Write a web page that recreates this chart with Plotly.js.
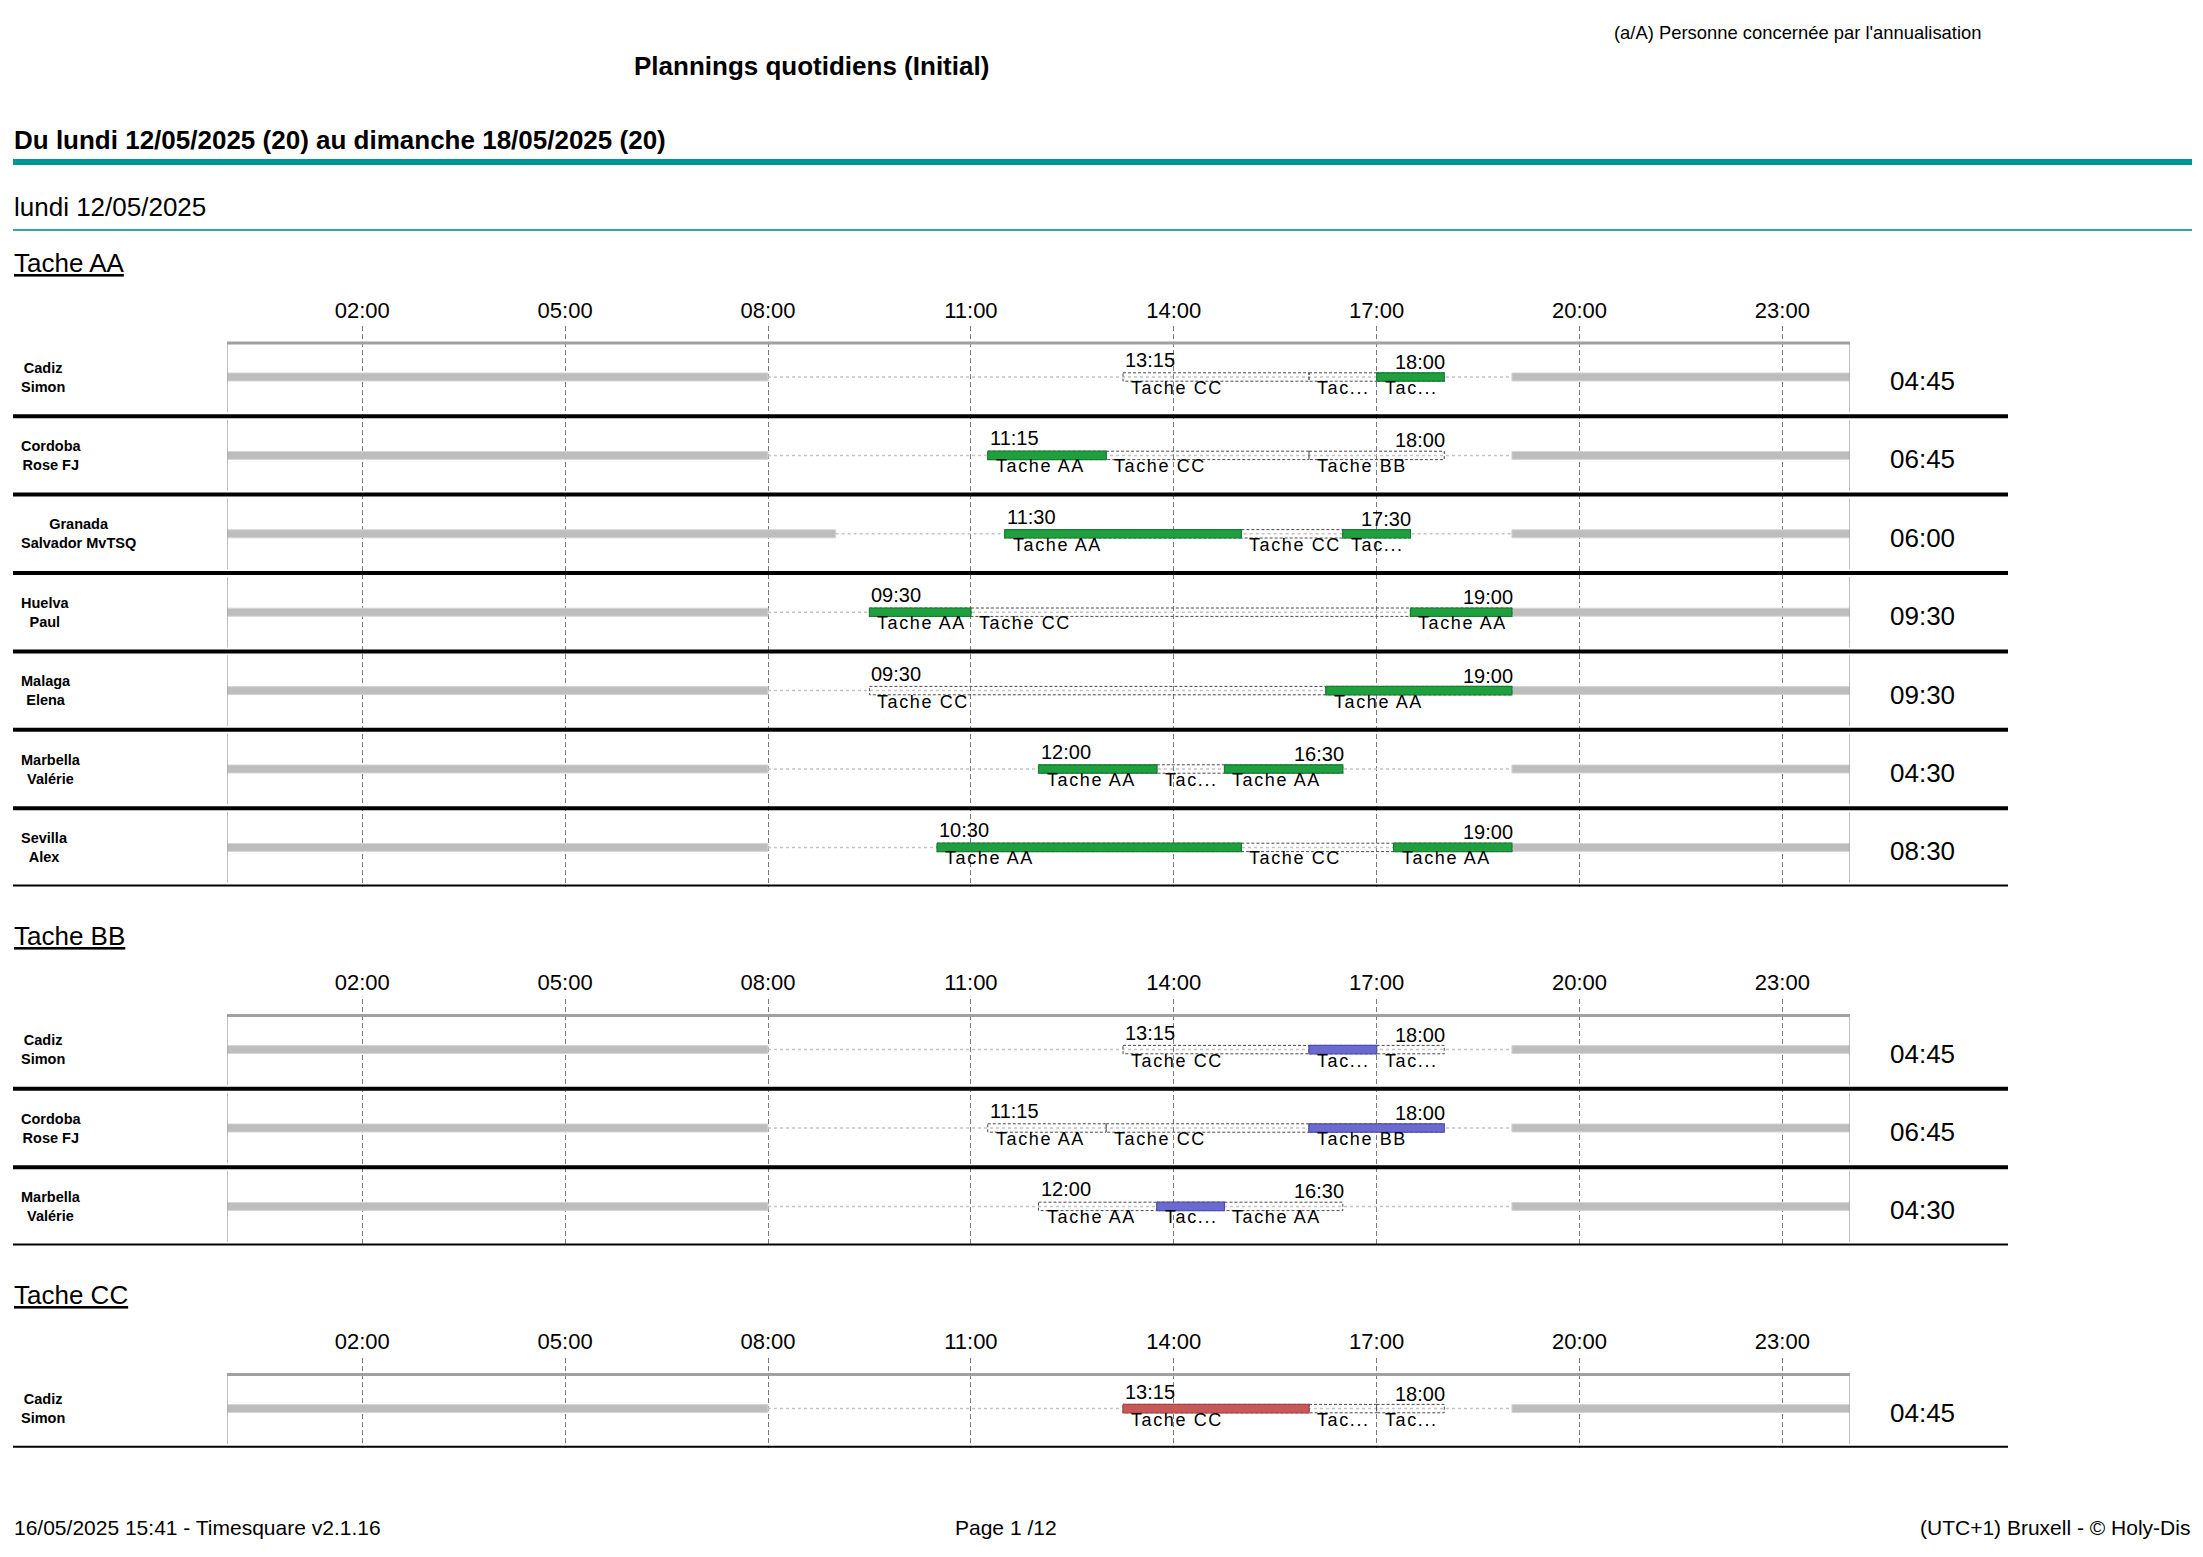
<!DOCTYPE html>
<html><head><meta charset="utf-8">
<script src="https://cdn.plot.ly/plotly-3.0.1.min.js"></script>
<style>html,body{margin:0;padding:0;background:#fff}</style>
</head><body><div id="chart" style="width:2203px;height:1557px"></div>
<script>
// ---------------- DATA ----------------
const lastNames  = ['Cadiz', 'Cordoba', 'Granada', 'Huelva', 'Malaga', 'Marbella', 'Sevilla'];
const firstNames = ['Simon', 'Rose FJ', 'Salvador MvTSQ', 'Paul', 'Elena', 'Valérie', 'Alex'];
const availStart = [8, 8, 9, 8, 8, 8, 8];
const availEnd   = [19, 19, 19, 19, 19, 19, 19];
const segStart = [[13.25, 16, 17], [11.25, 13, 16], [11.5, 15, 16.5], [9.5, 11, 17.5], [9.5, 16.25], [12, 13.75, 14.75], [10.5, 15, 17.25]];
const segEnd   = [[16, 17, 18], [13, 16, 18], [15, 16.5, 17.5], [11, 17.5, 19], [16.25, 19], [13.75, 14.75, 16.5], [15, 17.25, 19]];
const segTask  = [['Tache CC', 'Tache BB', 'Tache AA'], ['Tache AA', 'Tache CC', 'Tache BB'], ['Tache AA', 'Tache CC', 'Tache AA'],
                  ['Tache AA', 'Tache CC', 'Tache AA'], ['Tache CC', 'Tache AA'], ['Tache AA', 'Tache BB', 'Tache AA'], ['Tache AA', 'Tache CC', 'Tache AA']];
const totals = ['04:45', '06:45', '06:00', '09:30', '09:30', '04:30', '08:30'];
const sectionTasks   = ['Tache AA', 'Tache BB', 'Tache CC'];
const sectionMembers = [[0, 1, 2, 3, 4, 5, 6], [0, 1, 5], [0]];
const tickHours  = [2, 5, 8, 11, 14, 17, 20, 23];
const tickLabels = ['02:00', '05:00', '08:00', '11:00', '14:00', '17:00', '20:00', '23:00'];

// ---------------- STYLE / LAYOUT ----------------
const W = 2203, H = 1557;
const X0 = 227, X1 = 1850;        // px of 0h and 24h
const P = 78.4;                    // row pitch px
const FONT = 'Liberation Sans, Arial, sans-serif';
const taskColor = {'Tache AA': '#1f9f3d', 'Tache BB': '#6a6ad0', 'Tache CC': '#c95858'};
const taskLine  = {'Tache AA': '#177f31', 'Tache BB': '#5050ac', 'Tache CC': '#a84444'};
const px = v => v / W;
const py = v => 1 - v / H;
const fmt = h => { const hh = Math.floor(h), mm = Math.round((h - hh) * 60); return String(hh).padStart(2, '0') + ':' + String(mm).padStart(2, '0'); };

const traces = [], annotations = [], shapes = [];
const layout = {
  width: W, height: H, margin: {l: 0, r: 0, t: 0, b: 0},
  paper_bgcolor: '#fff', plot_bgcolor: 'rgba(0,0,0,0)',
  showlegend: false, barmode: 'overlay', hovermode: false,
  font: {family: FONT, color: '#000'}
};

// header texts
annotations.push(
  {xref: 'paper', yref: 'paper', x: px(1983), y: py(32), xanchor: 'right', yanchor: 'middle', showarrow: false,
   text: "(a/A) Personne concernée par l'annualisation", font: {size: 18.4}},
  {xref: 'paper', yref: 'paper', x: px(811), y: py(66), xanchor: 'center', yanchor: 'middle', showarrow: false,
   text: '<b>Plannings quotidiens (Initial)</b>', font: {size: 26}},
  {xref: 'paper', yref: 'paper', x: px(12), y: py(140), xanchor: 'left', yanchor: 'middle', showarrow: false,
   text: '<b>Du lundi 12/05/2025 (20) au dimanche 18/05/2025 (20)</b>', font: {size: 26}},
  {xref: 'paper', yref: 'paper', x: px(12), y: py(207), xanchor: 'left', yanchor: 'middle', showarrow: false,
   text: 'lundi 12/05/2025', font: {size: 26}},
  {xref: 'paper', yref: 'paper', x: px(12), y: py(1527), xanchor: 'left', yanchor: 'middle', showarrow: false,
   text: '16/05/2025 15:41 - Timesquare v2.1.16', font: {size: 21}},
  {xref: 'paper', yref: 'paper', x: px(1006), y: py(1527), xanchor: 'center', yanchor: 'middle', showarrow: false,
   text: 'Page 1 /12', font: {size: 21}},
  {xref: 'paper', yref: 'paper', x: px(2192), y: py(1527), xanchor: 'right', yanchor: 'middle', showarrow: false,
   text: '(UTC+1) Bruxell - © Holy-Dis', font: {size: 21}}
);
shapes.push(
  {type: 'line', xref: 'paper', yref: 'paper', x0: px(13), x1: px(2192), y0: py(162), y1: py(162), line: {color: '#009696', width: 6}},
  {type: 'line', xref: 'paper', yref: 'paper', x0: px(13), x1: px(2192), y0: py(230), y1: py(230), line: {color: '#30a8a8', width: 2}}
);

let h0 = 263;
sectionTasks.forEach((task, k) => {
  const members = sectionMembers[k];
  const n = members.length;
  const gridTop = h0 + 63, border = h0 + 80, row0 = h0 + 114, bottom = row0 + (n - 0.5) * P;
  const xa = k === 0 ? 'x' : 'x' + (k + 1), ya = k === 0 ? 'y' : 'y' + (k + 1);
  const xName = k === 0 ? 'xaxis' : 'xaxis' + (k + 1), yName = k === 0 ? 'yaxis' : 'yaxis' + (k + 1);
  const rTop = (gridTop - row0) / P, rBorder = (border - row0) / P;
  const half = 4.2 / P;

  layout[xName] = {domain: [px(X0), px(X1)], range: [0, 24], anchor: ya, side: 'top',
    tickvals: tickHours, ticktext: tickLabels, ticks: '', showgrid: true, gridcolor: '#7a7a7a', gridwidth: 1,
    griddash: '5px,3px', zeroline: false, showline: false, fixedrange: true, tickfont: {size: 22, family: FONT},
    ticklabelstandoff: 3};
  layout[yName] = {domain: [py(bottom), py(gridTop)], range: [n - 0.5, rTop], anchor: xa, showgrid: false,
    zeroline: false, showline: false, showticklabels: false, ticks: '', fixedrange: true};

  annotations.push({xref: 'paper', yref: 'paper', x: px(12), y: py(h0), xanchor: 'left', yanchor: 'middle', showarrow: false,
    text: '<u>' + task + '</u>', font: {size: 26}});

  const gY = [], gB = [], gX = [];   // gray unavailable bars
  const aX = [], aY = [];            // availability dotted lines
  const bX = [], bY = [];            // segment boxes
  const tX = [], tY = [];            // task-coloured bars (filled rectangles)
  members.forEach((p, r) => {
    gY.push(r, r); gB.push(0, availEnd[p]); gX.push(availStart[p], 24 - availEnd[p]);
    aX.push(availStart[p], availEnd[p], null); aY.push(r, r, null);
    const ss = segStart[p], se = segEnd[p], st = segTask[p];
    ss.forEach((s, j) => {
      const e = se[j];
      bX.push(s, e, e, s, s, null); bY.push(r - half, r - half, r + half, r + half, r - half, null);
      if (st[j] === task) { tX.push(s, e, e, s, s, null); tY.push(r - half, r - half, r + half, r + half, r - half, null); }
      const lbl = (e - s) <= 1 ? 'Tac...' : st[j];
      annotations.push({xref: xa, yref: ya, x: s, y: r, xanchor: 'left', yanchor: 'middle', xshift: 6, yshift: -11,
        showarrow: false, text: '<span style="letter-spacing:1.6px">' + lbl + '</span>', font: {size: 18}});
    });
    annotations.push(
      {xref: xa, yref: ya, x: ss[0], y: r, xanchor: 'left', yanchor: 'middle', xshift: 0, yshift: 17, showarrow: false,
       text: fmt(ss[0]), font: {size: 20}},
      {xref: xa, yref: ya, x: se[se.length - 1], y: r, xanchor: 'right', yanchor: 'middle', xshift: 3, yshift: 15, showarrow: false,
       text: fmt(se[se.length - 1]), font: {size: 20}},
      {xref: 'paper', yref: ya, x: px(1922), y: r, xanchor: 'center', yanchor: 'middle', yshift: -4, showarrow: false,
       text: totals[p], font: {size: 26}},
      {xref: 'paper', yref: ya, x: px(19), y: r, xanchor: 'left', yanchor: 'middle', align: 'center', showarrow: false,
       text: '<b>' + lastNames[p] + '<br>' + firstNames[p] + '</b>', font: {size: 14.5, family: 'Liberation Sans Narrow, Liberation Sans, Arial, sans-serif'}}
    );
    shapes.push({type: 'line', xref: 'paper', yref: ya, x0: px(13), x1: px(2008), y0: r + 0.5, y1: r + 0.5, line: {color: '#000', width: 4}});
    const yTopRow = r === 0 ? rBorder : r - 0.45;
    shapes.push({type: 'line', xref: xa, yref: ya, x0: 0, x1: 0, y0: yTopRow, y1: r + 0.45, line: {color: '#a8a8a8', width: 1.5}});
    shapes.push({type: 'line', xref: xa, yref: ya, x0: 24, x1: 24, y0: yTopRow, y1: r + 0.45, line: {color: '#a8a8a8', width: 1.5}});
  });
  shapes.push({type: 'line', xref: xa, yref: ya, x0: 0, x1: 24, y0: rBorder, y1: rBorder, line: {color: '#a0a0a0', width: 3}});

  traces.push({type: 'bar', orientation: 'h', y: gY, base: gB, x: gX, width: 8 / P, xaxis: xa, yaxis: ya, hoverinfo: 'skip',
    marker: {color: '#bdbdbd', line: {color: '#d4d4d4', width: 1}}});
  traces.push({type: 'scatter', mode: 'lines', x: aX, y: aY, xaxis: xa, yaxis: ya, hoverinfo: 'skip',
    line: {color: '#c4c4c4', width: 1.5, dash: '3px,3px'}});
  traces.push({type: 'scatter', mode: 'lines', x: bX, y: bY, xaxis: xa, yaxis: ya, hoverinfo: 'skip',
    line: {color: '#4a4a4a', width: 1, dash: '3px,2px'}});
  traces.push({type: 'scatter', mode: 'lines', x: tX, y: tY, xaxis: xa, yaxis: ya, hoverinfo: 'skip',
    fill: 'toself', fillcolor: taskColor[task], line: {color: taskLine[task], width: 1.2}});

  h0 = bottom + 49;
});

layout.annotations = annotations;
layout.shapes = shapes;
Plotly.newPlot('chart', traces, layout, {staticPlot: true, displayModeBar: false});
</script></body></html>
